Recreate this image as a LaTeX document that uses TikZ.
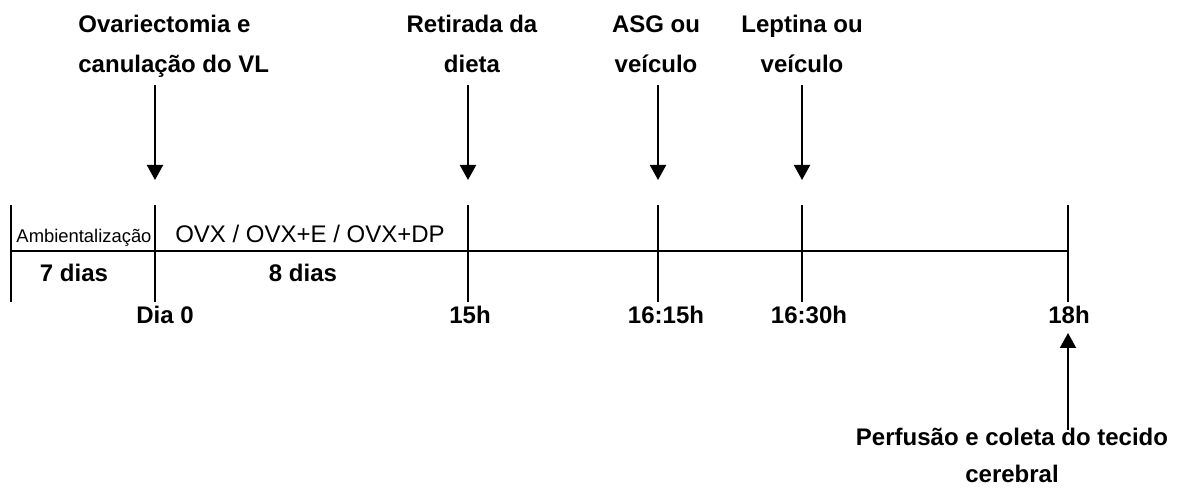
\documentclass[tikz,border=0pt]{standalone}
\usepackage{fontspec}
\setmainfont{Liberation Sans}
\usetikzlibrary{arrows.meta}

\begin{document}
\begin{tikzpicture}[x=0.5pt, y=-0.5pt,
    lbl/.style={font=\fontsize{12}{20}\selectfont\bfseries, inner sep=0pt, align=center},
    phase/.style={font=\fontsize{12}{14}\selectfont, inner sep=0pt, anchor=base},
    tick/.style={line width=1pt},
    evt/.style={line width=1pt, -{Triangle[width=8pt,length=7.5pt]}}]
    \useasboundingbox (0,0) rectangle (1181,490);
    % time axis
    \coordinate (t0) at (11,251);
    \coordinate (dia0) at (155,251);
    \coordinate (h15) at (468,251);
    \coordinate (h1615) at (658,251);
    \coordinate (h1630) at (802,251);
    \coordinate (h18) at (1068,251);
    \draw[tick] (t0) -- (h18);
    \foreach \t in {t0,dia0,h15,h1615,h1630,h18}
        \draw[tick] ([yshift=23pt]\t) -- ([yshift=-25.5pt]\t);
    % phases
    \node[phase, font=\fontsize{9.2}{11}\selectfont] (amb) at (84,243) {Ambientalização};
    \node[phase] (ovx) at (310,243) {OVX / OVX+E / OVX+DP};
    \node[lbl, anchor=base] (d7) at (74,282) {7 dias};
    \node[lbl, anchor=base] (d8) at (303,282) {8 dias};
    % time labels
    \node[lbl, anchor=base] (ldia0) at (165,324) {Dia 0};
    \node[lbl, anchor=base] (l15) at (470,324) {15h};
    \node[lbl, anchor=base] (l1615) at (666,324) {16:15h};
    \node[lbl, anchor=base] (l1630) at (809,324) {16:30h};
    \node[lbl, anchor=base] (l18) at (1069,324) {18h};
    % events
    \node[lbl, anchor=north west, align=left] (ovr) at (78,15) {Ovariectomia e\\canulação do VL};
    \node[lbl, anchor=north] (ret) at (472,15) {Retirada da\\dieta};
    \node[lbl, anchor=north] (asg) at (656,15) {ASG ou\\veículo};
    \node[lbl, anchor=north] (lep) at (802,15) {Leptina ou\\veículo};
    \node[lbl, anchor=north, font=\fontsize{12}{18.5}\selectfont\bfseries] (perf) at (1012,428) {Perfusão e coleta do tecido\\cerebral};
    \foreach \t in {dia0,h15,h1615,h1630}
        \draw[evt] ([yshift=83pt]\t) -- ([yshift=35.5pt]\t);
    \draw[evt] ([yshift=-89.5pt]h18) -- ([yshift=-41pt]h18);
\end{tikzpicture}
\end{document}
